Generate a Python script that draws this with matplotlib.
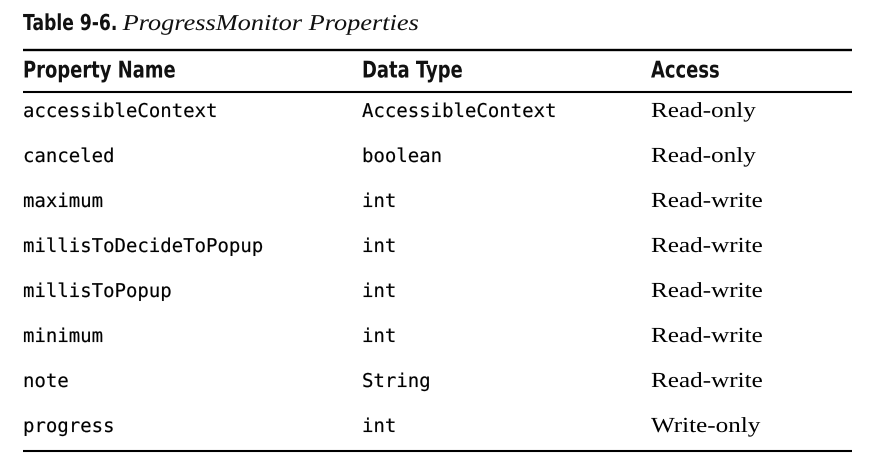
import matplotlib
matplotlib.use("Agg")
import matplotlib.pyplot as plt
from matplotlib.textpath import TextPath
from matplotlib.patches import PathPatch
from matplotlib.font_manager import FontProperties
from matplotlib.transforms import Affine2D

# datos de la tabla
titulo_num = "Table 9-6."
titulo_txt = "ProgressMonitor Properties"
encabezados = ["Property Name", "Data Type", "Access"]
propiedades = ["accessibleContext", "canceled", "maximum", "millisToDecideToPopup",
               "millisToPopup", "minimum", "note", "progress"]
tipos = ["AccessibleContext", "boolean", "int", "int", "int", "int", "String", "int"]
accesos = ["Read-only", "Read-only", "Read-write", "Read-write", "Read-write",
           "Read-write", "Read-write", "Write-only"]

W, H = 892, 472
fig = plt.figure(figsize=(W / 100, H / 100), dpi=100)
ax = fig.add_axes([0, 0, 1, 1])
ax.set_xlim(0, W)
ax.set_ylim(H, 0)
ax.axis("off")

f_bold = FontProperties(family="DejaVu Sans", weight="bold")
f_mono = FontProperties(family="DejaVu Sans Mono")
f_serif = FontProperties(family="Liberation Serif")
f_ital = FontProperties(family="Liberation Serif", style="italic")


def texto(x, y, s, prop, size, sx=1.0, color="#111111", borde=0.0):
    # dibuja texto como path, (x, y) = inicio de la linea base; sx estira en horizontal
    tp = TextPath((0, 0), s, size=size, prop=prop)
    tr = Affine2D().scale(sx, -1).translate(x, y) + ax.transData
    ax.add_patch(PathPatch(tp, transform=tr, facecolor=color,
                           edgecolor=color if borde else "none", lw=borde))
    return x + tp.get_extents().x1 * sx


col_x = [23, 362, 651]
x0, x1 = 23, 852

# titulo
xe = texto(x0, 30, titulo_num, f_bold, 22, sx=0.78)
texto(xe + 7, 30, titulo_txt, f_ital, 22.7, sx=1.16)

# lineas
ax.plot([x0, x1], [50, 50], color="black", lw=1.7, solid_capstyle="butt")
ax.plot([x0, x1], [92, 92], color="black", lw=1.5, solid_capstyle="butt")
ax.plot([x0, x1], [450.5, 450.5], color="black", lw=1.5, solid_capstyle="butt")

# encabezados
for x, h in zip(col_x, encabezados):
    texto(x, 77.5, h, f_bold, 23, sx=0.78)

# filas
for i, (p, t, a) in enumerate(zip(propiedades, tipos, accesos)):
    y = 117 + i * 45
    texto(col_x[0], y, p, f_mono, 19, color="black", borde=0.1)
    texto(col_x[1], y, t, f_mono, 19, color="black", borde=0.1)
    texto(col_x[2], y, a, f_serif, 21.5, sx=1.17, color="black")

fig.savefig("out.png", dpi=100)
